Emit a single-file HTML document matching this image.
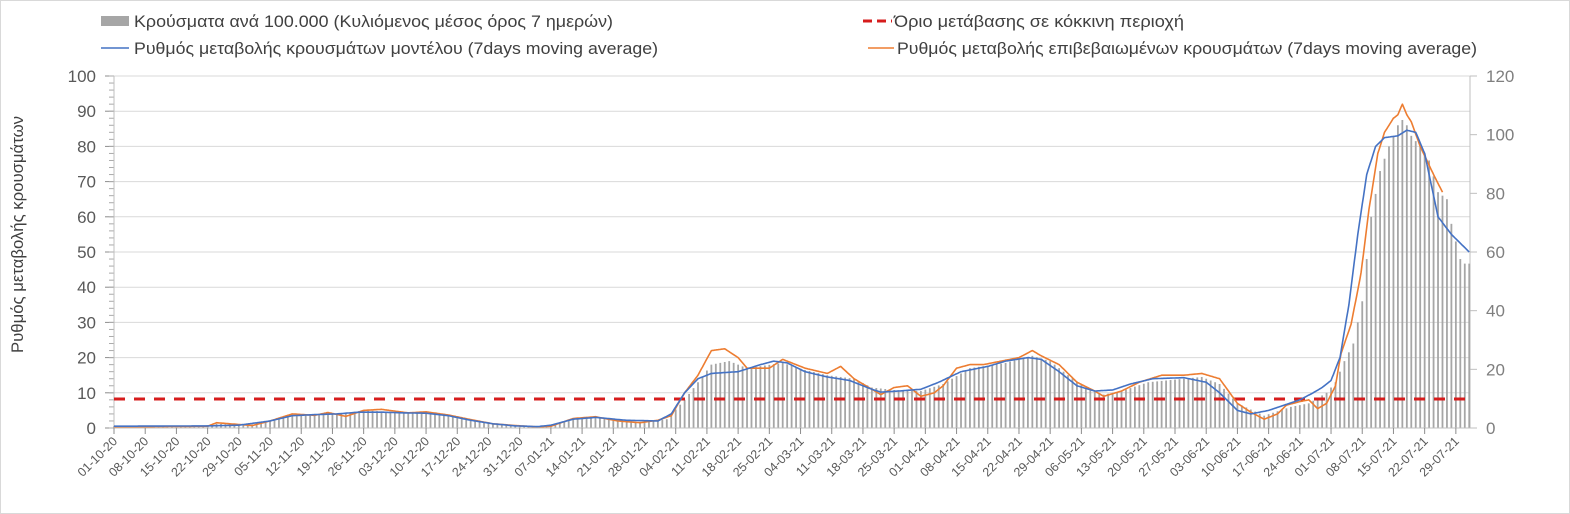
<!DOCTYPE html>
<html><head><meta charset="utf-8"><style>
body{margin:0;background:#fff;}
#wrap{width:1568px;height:512px;border:1px solid #d9d9d9;position:relative;overflow:hidden}
svg text{font-family:"Liberation Sans",sans-serif;}
</style></head><body><div id="wrap">
<svg id="s" width="1570" height="514" xmlns="http://www.w3.org/2000/svg"></svg></div>
<script>
const s=document.getElementById('s');
let h='';
const X0=113,PX=4.458,Y0=427,YS=3.52;
const xd=d=>X0+d*PX, yl=v=>Y0-v*YS;
for(let v=0;v<=100;v+=10){const y=yl(v);
 if(v>0)h+=`<line x1="113" y1="${y}" x2="1469" y2="${y}" stroke="#d9d9d9" stroke-width="1"/>`;
 h+=`<text x="95" y="${y+6}" font-size="17" fill="#595959" text-anchor="end">${v}</text>`;
 h+=`<line x1="104" y1="${y}" x2="113" y2="${y}" stroke="#8c8c8c"/>`;}
for(let v=0;v<=100;v+=2){const y=yl(v);h+=`<line x1="108" y1="${y}" x2="113" y2="${y}" stroke="#aaa"/>`;}
for(let v=0;v<=120;v+=20){const y=Y0-v*352/120;
 h+=`<text x="1485" y="${y+6}" font-size="17" fill="#7f7f7f">${v}</text>`;
 h+=`<line x1="1469" y1="${y}" x2="1476" y2="${y}" stroke="#bfbfbf"/>`;}
h+=`<line x1="113" y1="75" x2="113" y2="427" stroke="#bfbfbf"/>`;
h+=`<line x1="1469" y1="75" x2="1469" y2="427" stroke="#bfbfbf"/>`;
function interp(p,d){for(let i=0;i<p.length-1;i++){if(d>=p[i][0]&&d<=p[i+1][0]){const t=(d-p[i][0])/(p[i+1][0]-p[i][0]);return p[i][1]+t*(p[i+1][1]-p[i][1]);}}return null;}
const blue=[[0,0.5],[21,0.6],[28,0.8],[35,2],[40,3.5],[45,3.8],[50,4],[55,4.5],[60,4.5],[65,4.3],[70,4.2],[75,3.5],[80,2.2],[85,1.2],[90,0.6],[95,0.4],[98,0.8],[103,2.5],[108,3],[115,2.2],[122,2],[125,4],[128,10],[131,14],[134,15.5],[140,16],[145,18],[148,19],[151,18.5],[155,16],[160,14.5],[165,13.5],[170,11],[172,10.2],[176,10.5],[181,11],[185,13],[190,16],[196,17.5],[200,19],[205,20],[208,19.5],[212,16],[216,12],[220,10.5],[224,10.8],[228,12.5],[233,14],[240,14.3],[245,13],[248,10],[252,5],[255,4],[259,5],[266,8],[269,10],[271,11.5],[273,13.5],[275,20],[277,35],[279,55],[281,72],[283,80],[285,82.5],[288,83],[290,84.6],[292,84],[294,78],[297,60],[300,55],[304,50]];
const orng=[[0,0.3],[21,0.5],[23,1.5],[28,1],[31,0.7],[35,2],[40,4],[45,3.6],[48,4.4],[52,3.3],[56,5],[60,5.3],[63,4.8],[66,4.3],[70,4.6],[75,3.7],[80,2.4],[85,1.2],[90,0.7],[95,0.3],[98,0.5],[103,2.7],[108,3.2],[113,2],[118,1.5],[122,2.2],[125,3.5],[128,10],[131,15],[134,22],[137,22.5],[140,20],[142,17],[147,17],[150,19.5],[155,17],[160,15.5],[163,17.5],[166,14],[170,11],[172,9.5],[175,11.5],[178,12],[181,9],[184,10],[186,12],[189,17],[192,18],[195,18],[199,19],[203,20],[206,22],[208,20.5],[212,18],[216,13],[220,10.5],[222,9],[226,10.5],[230,13],[235,15],[240,15],[244,15.5],[248,14],[252,7],[255,4.5],[258,2.5],[261,4],[263,6.5],[266,7.5],[268,8],[270,5.5],[272,7],[274,12],[275.2,21],[277.5,29.5],[279.7,43.7],[281.5,62],[283.5,78],[285,84],[287,88],[288,89],[289,92],[290,89],[291,87],[293,80],[296,72],[298,67]];
const bars=[[0,0.5],[20,0.6],[23,1.2],[30,0.8],[35,2],[40,3.8],[50,4],[56,5],[63,4.5],[70,4.3],[75,3.6],[80,2.4],[85,1.2],[90,0.6],[97,0.4],[103,2.7],[108,3],[118,1.7],[124,2.5],[128,8],[131,13],[134,18],[138,19],[142,17],[150,18.5],[155,16.5],[160,15],[166,14],[170,11.5],[175,10.8],[181,10.5],[186,12.5],[192,17],[200,18.5],[206,20.5],[210,19],[214,15],[218,11.5],[222,9.5],[226,10.5],[232,13],[244,14.5],[248,12.5],[252,7],[258,3.5],[264,6],[268,7],[272,10],[274,13],[276,19],[278,24],[280,36],[282,60],[284,73],[286,80],[288,86],[289,87.5],[290,86],[291,83],[293,80],[295,76],[297,67],[299,65],[300,58],[301,53],[302,48],[303,46.7],[304,46.7]];
for(let d=0;d<=304;d++){const v=interp(bars,d);const x=xd(d);
 h+=`<rect x="${x-0.9}" y="${yl(v)}" width="1.8" height="${v*YS}" fill="#a6a6a6"/>`;}
h+=`<line x1="113" y1="398" x2="1469" y2="398" stroke="#d61c1c" stroke-width="3" stroke-dasharray="11,9"/>`;
function path(p,c){let d='';const last=p[p.length-1][0];for(let t=0;t<=last;t+=0.25){const v=interp(p,t);d+=(t?'L':'M')+xd(t).toFixed(1)+' '+yl(v).toFixed(1);}return `<path d="${d}" fill="none" stroke="${c}" stroke-width="1.6" stroke-linejoin="round"/>`;}
h+=path(orng,'#ed7d31');
h+=path(blue,'#4472c4');
h+=`<line x1="113" y1="427" x2="1469" y2="427" stroke="#bfbfbf"/>`;
const mons=[31,30,31,31,28,31,30,31,30,31];const dn=[10,11,12,1,2,3,4,5,6,7];
function lab(d){let m=0,dd=d;while(dd>=mons[m]){dd-=mons[m];m++;}const mm=dn[m];const yy=(m<3)?'20':'21';return String(dd+1).padStart(2,'0')+'-'+String(mm).padStart(2,'0')+'-'+yy;}
for(let d=0;d<=301;d+=7){const x=xd(d);
 h+=`<line x1="${x}" y1="427" x2="${x}" y2="433" stroke="#8c8c8c"/>`;
 h+=`<text transform="translate(${x+4},441) rotate(-45)" font-size="12.5" fill="#595959" text-anchor="end">${lab(d)}</text>`;}
h+=`<text transform="translate(22,352) rotate(-90)" font-size="16.5" fill="#404040" textLength="237" lengthAdjust="spacingAndGlyphs">Ρυθμός μεταβολής κρουσμάτων</text>`;
h+=`<rect x="100" y="15" width="28" height="10" fill="#a6a6a6"/><text x="133" y="26" font-size="16.5" fill="#404040" textLength="479" lengthAdjust="spacingAndGlyphs">Κρούσματα ανά 100.000 (Κυλιόμενος μέσος όρος 7 ημερών)</text>`;
h+=`<line x1="862" y1="20" x2="891" y2="20" stroke="#d61c1c" stroke-width="3" stroke-dasharray="9,5"/><text x="893" y="26" font-size="16.5" fill="#404040" textLength="290" lengthAdjust="spacingAndGlyphs">Όριο μετάβασης σε κόκκινη περιοχή</text>`;
h+=`<line x1="100" y1="47" x2="128" y2="47" stroke="#4472c4" stroke-width="1.6"/><text x="133" y="53" font-size="16.5" fill="#404040" textLength="524" lengthAdjust="spacingAndGlyphs">Ρυθμός μεταβολής κρουσμάτων μοντέλου (7days moving average)</text>`;
h+=`<line x1="867" y1="47" x2="893" y2="47" stroke="#ed7d31" stroke-width="1.6"/><text x="896" y="53" font-size="16.5" fill="#404040" textLength="580" lengthAdjust="spacingAndGlyphs">Ρυθμός μεταβολής επιβεβαιωμένων κρουσμάτων (7days moving average)</text>`;
s.innerHTML=h;
</script></body></html>
